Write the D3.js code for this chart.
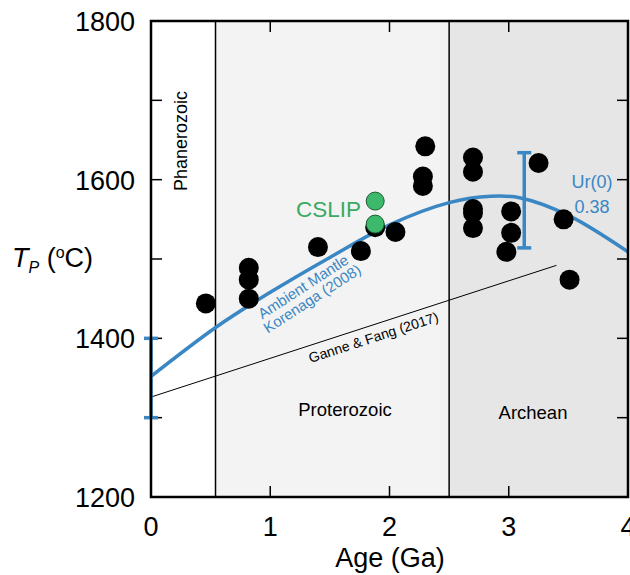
<!DOCTYPE html>
<html lang="en">
<head>
<meta charset="utf-8">
<title>Mantle potential temperature vs age</title>
<script src="https://d3js.org/d3.v7.min.js"></script>
<style>
  body { margin: 0; background: #fff; }
  text { font-family: "Liberation Sans", Arial, sans-serif; }
</style>
</head>
<body>
<svg id="chart" width="630" height="575"></svg>
<script>
// --- data ---
const xTicks = [0, 1, 2, 3, 4];
const yTicks = [1200, 1300, 1400, 1500, 1600, 1700, 1800];
const yLabels = [1200, 1400, 1600, 1800];

// eon boundaries (Ga)
const eons = [
  {name: "Phanerozoic", from: 0, to: 0.541, fill: "#ffffff"},
  {name: "Proterozoic", from: 0.541, to: 2.5, fill: "#f3f3f3"},
  {name: "Archean", from: 2.5, to: 4, fill: "#e6e6e6"}
];

// black data points: age (Ga), Tp (C)
const ages = [0.46, 0.82, 0.82, 0.82, 1.40, 1.76, 1.88, 2.05, 2.30, 2.28, 2.28,
              2.70, 2.70, 2.70, 2.70, 2.70, 3.02, 3.02, 2.98, 3.25, 3.46, 3.51];
const temps = [1444, 1489, 1474, 1450, 1515, 1510, 1540, 1534, 1642, 1604, 1592,
               1628, 1610, 1563, 1558, 1539, 1560, 1533, 1509, 1621, 1550, 1474];

// CSLIP points
const cslipAges = [1.88, 1.88];
const cslipTemps = [1573, 1544];

// Korenaga (2008) ambient mantle curve, Ur(0) = 0.38
const korAges = [0, 0.545, 1, 1.5, 2, 2.5, 2.85, 3.1, 3.5, 4];
const korTemps = [1352, 1414, 1458, 1502, 1543, 1571, 1579, 1577, 1555, 1509];

// Ganne & Fang (2017) trend
const ganneAges = [0, 3.4];
const ganneTemps = [1326, 1492];

// error bars: age, low, high
const errBars = [[0, 1300, 1400], [3.13, 1514, 1634]];

// --- layout ---
const svg = d3.select("#chart");
const mLeft = 151, mRight = 628, mTop = 21, mBottom = 497;
const x = d3.scaleLinear().domain([0, 4]).range([mLeft, mRight]);
const y = d3.scaleLinear().domain([1200, 1800]).range([mBottom, mTop]);
const blue = "#3a87c4";

// eon bands
svg.selectAll("rect.eon").data(eons).enter().append("rect")
  .attr("x", d => x(d.from)).attr("width", d => x(d.to) - x(d.from))
  .attr("y", mTop).attr("height", mBottom - mTop)
  .attr("fill", d => d.fill);

svg.selectAll("line.bound").data([0.541, 2.5]).enter().append("line")
  .attr("x1", d => x(d)).attr("x2", d => x(d))
  .attr("y1", mTop).attr("y2", mBottom)
  .attr("stroke", "#000").attr("stroke-width", 1.5);

// ticks inward, all four sides
const tl = 11;
const tk = svg.append("g").attr("stroke", "#000").attr("stroke-width", 1.5);
xTicks.slice(1, -1).forEach(t => {
  tk.append("line").attr("x1", x(t)).attr("x2", x(t)).attr("y1", mBottom).attr("y2", mBottom - tl);
  tk.append("line").attr("x1", x(t)).attr("x2", x(t)).attr("y1", mTop).attr("y2", mTop + tl);
});
yTicks.slice(1, -1).forEach(t => {
  tk.append("line").attr("x1", mLeft).attr("x2", mLeft + tl).attr("y1", y(t)).attr("y2", y(t));
  tk.append("line").attr("x1", mRight).attr("x2", mRight - tl).attr("y1", y(t)).attr("y2", y(t));
});

// eon labels
svg.append("text").attr("transform", "translate(187,141) rotate(-90)")
  .attr("text-anchor", "middle").attr("font-size", 18).text("Phanerozoic");
svg.append("text").attr("x", 345).attr("y", 416).attr("text-anchor", "middle")
  .attr("font-size", 18.5).text("Proterozoic");
svg.append("text").attr("x", 533).attr("y", 419).attr("text-anchor", "middle")
  .attr("font-size", 18.5).text("Archean");

// Ganne & Fang line
svg.append("line")
  .attr("x1", x(ganneAges[0])).attr("y1", y(ganneTemps[0]))
  .attr("x2", x(ganneAges[1])).attr("y2", y(ganneTemps[1]))
  .attr("stroke", "#000").attr("stroke-width", 1);
const gAng = Math.atan2(y(ganneTemps[1]) - y(ganneTemps[0]), x(ganneAges[1]) - x(ganneAges[0])) * 180 / Math.PI;
svg.append("text").attr("transform", `translate(375,342) rotate(${gAng})`)
  .attr("text-anchor", "middle").attr("font-size", 14).text("Ganne & Fang (2017)");

// Korenaga curve
const line = d3.line().x((d, i) => x(korAges[i])).y(d => y(d)).curve(d3.curveCatmullRom);
svg.append("path").datum(korTemps).attr("d", line)
  .attr("fill", "none").attr("stroke", blue).attr("stroke-width", 3.5);

const kl = svg.append("g").attr("transform", "translate(306,291) rotate(-33)")
  .attr("fill", blue).attr("font-size", 15).attr("text-anchor", "middle");
kl.append("text").attr("y", 0).text("Ambient Mantle");
kl.append("text").attr("x", 1).attr("y", 15).text("Korenaga (2008)");

svg.append("text").attr("x", 592).attr("y", 188).attr("fill", blue)
  .attr("text-anchor", "middle").attr("font-size", 18).text("Ur(0)");
svg.append("text").attr("x", 592).attr("y", 213).attr("fill", blue)
  .attr("text-anchor", "middle").attr("font-size", 18).text("0.38");

// error bars
const eb = svg.append("g").attr("stroke", blue).attr("stroke-width", 3.5);
errBars.forEach(([a, lo, hi]) => {
  eb.append("line").attr("x1", x(a)).attr("x2", x(a)).attr("y1", y(lo)).attr("y2", y(hi));
  eb.append("line").attr("x1", x(a) - 7).attr("x2", x(a) + 7).attr("y1", y(lo)).attr("y2", y(lo));
  eb.append("line").attr("x1", x(a) - 7).attr("x2", x(a) + 7).attr("y1", y(hi)).attr("y2", y(hi));
});

// black points
svg.selectAll("circle.pt").data(ages).enter().append("circle")
  .attr("cx", d => x(d)).attr("cy", (d, i) => y(temps[i])).attr("r", 10).attr("fill", "#000");

// CSLIP
svg.selectAll("circle.cs").data(cslipAges).enter().append("circle")
  .attr("cx", d => x(d)).attr("cy", (d, i) => y(cslipTemps[i])).attr("r", 9)
  .attr("fill", "#3cb96a").attr("stroke", "#1d5a33").attr("stroke-width", 1);
svg.append("text").attr("x", 361).attr("y", 217).attr("text-anchor", "end")
  .attr("fill", "#3aaa62").attr("font-size", 22.5).text("CSLIP");

// frame
svg.append("rect").attr("x", mLeft).attr("y", mTop).attr("width", mRight - mLeft).attr("height", mBottom - mTop)
  .attr("fill", "none").attr("stroke", "#000").attr("stroke-width", 2.5);

// tick labels
svg.selectAll("text.xt").data(xTicks).enter().append("text")
  .attr("x", d => x(d)).attr("y", 536).attr("text-anchor", "middle")
  .attr("font-size", 27).text(d => d);
svg.selectAll("text.yt").data(yLabels).enter().append("text")
  .attr("x", 135).attr("y", d => y(d) + 10).attr("text-anchor", "end")
  .attr("font-size", 27).text(d => d);

// axis titles
svg.append("text").attr("x", 390).attr("y", 567).attr("text-anchor", "middle")
  .attr("font-size", 27).text("Age (Ga)");
const yt = svg.append("text").attr("x", 12).attr("y", 267).attr("font-size", 27);
yt.append("tspan").attr("font-style", "italic").text("T");
yt.append("tspan").attr("font-style", "italic").attr("font-size", 16).attr("dy", 6).text("P");
yt.append("tspan").attr("dy", -6).text(" (");
yt.append("tspan").attr("font-size", 16).attr("dy", -9).text("o");
yt.append("tspan").attr("dy", 9).text("C)");
</script>
</body>
</html>
